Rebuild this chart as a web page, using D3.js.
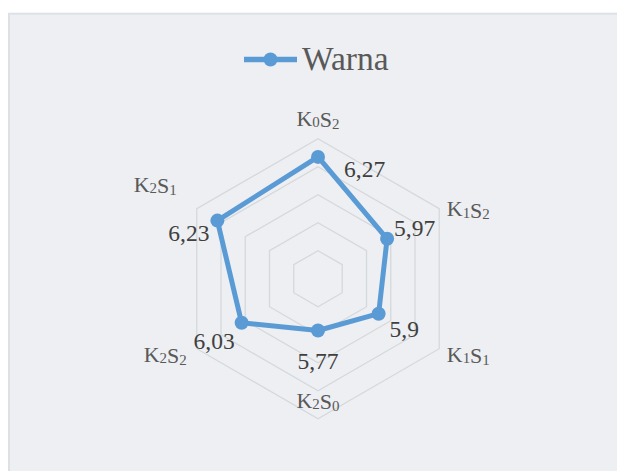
<!DOCTYPE html>
<html>
<head>
<meta charset="utf-8">
<script src="https://cdn.jsdelivr.net/npm/d3@7"></script>
<style>
  html, body { margin: 0; padding: 0; background: #fff; }
  svg { display: block; }
</style>
</head>
<body>
<div id="chart"></div>
<script>
// data
const seriesName = 'Warna';
const categories = ['K0S2', 'K1S2', 'K1S1', 'K2S0', 'K2S2', 'K2S1'];
const warna = [6.27, 5.97, 5.9, 5.77, 6.03, 6.23];
const axisMin = 5.4;
const axisMax = 6.4;
const ringTicks = [5.6, 5.8, 6.0, 6.2, 6.4];

const width = 617, height = 471;
const cx = 318, cy = 278.7, radius = 140;
const blue = '#5b9bd5';

// excel puts labels a bit oddly, nudges relative to computed points
const catNudge = [[0, -13, 'middle'], [7.5, 7.5, 'start'], [7.5, 13, 'start'],
                  [0, -11, 'middle'], [-10, 13, 'end'], [-20, -17, 'end']];
const valNudge = [[26, 20.5, 'start'], [7, -3, 'start'], [11, 23, 'start'],
                  [0, 39, 'middle'], [-7, 26, 'end'], [-8, 20, 'end']];

const comma = d3.formatLocale({ decimal: ',', thousands: '.', grouping: [3], currency: ['', ''] });
const fmt = comma.format('.3~g');

const svg = d3.select('#chart')
              .append('svg')
              .attr('width', width)
              .attr('height', height);

svg.append('rect')
   .attr('x', 9).attr('y', 13.7)
   .attr('width', width).attr('height', height)
   .attr('fill', '#edeff2')
   .attr('stroke', '#dde1e6')
   .attr('stroke-width', 2);

const rScale = d3.scaleLinear().domain([axisMin, axisMax]).range([0, radius]);
const angle = d3.scaleLinear().domain([0, categories.length]).range([0, 2 * Math.PI]);

const g = svg.append('g').attr('transform', `translate(${cx}, ${cy})`);

const ringLine = d3.lineRadial()
                   .angle((d, i) => angle(i))
                   .radius(d => rScale(d))
                   .curve(d3.curveLinearClosed);

g.selectAll('.ring')
 .data(ringTicks)
 .enter()
 .append('path')
 .attr('class', 'ring')
 .attr('d', t => ringLine(categories.map(() => t)))
 .attr('fill', 'none')
 .attr('stroke', '#d5d9db')
 .attr('stroke-width', 1.3);

const pt = (v, i) => {
  const a = angle(i);
  return [rScale(v) * Math.sin(a), -rScale(v) * Math.cos(a)];
};

// category labels with subscripts
const subText = (sel, label) => {
  label.match(/[A-Z]\d/g).forEach(part => {
    sel.append('tspan').text(part[0]);
    sel.append('tspan').attr('font-size', '0.68em').attr('dy', 1.5).text(part[1]);
    sel.append('tspan').attr('dy', -1.5).text('');
  });
};

g.selectAll('.cat')
 .data(categories)
 .enter()
 .append('text')
 .attr('class', 'cat')
 .attr('x', (d, i) => pt(axisMax, i)[0] + catNudge[i][0])
 .attr('y', (d, i) => pt(axisMax, i)[1] + catNudge[i][1])
 .attr('text-anchor', (d, i) => catNudge[i][2])
 .attr('font-family', '"Liberation Serif", serif')
 .attr('font-size', 22)
 .attr('fill', '#595959')
 .each(function (d) { subText(d3.select(this), d); });

const dataLine = d3.lineRadial()
                   .angle((d, i) => angle(i))
                   .radius(d => rScale(d))
                   .curve(d3.curveLinearClosed);

g.append('path')
 .attr('d', dataLine(warna))
 .attr('fill', 'none')
 .attr('stroke', blue)
 .attr('stroke-width', 5)
 .attr('stroke-linejoin', 'round');

g.selectAll('.dot')
 .data(warna)
 .enter()
 .append('circle')
 .attr('class', 'dot')
 .attr('cx', (d, i) => pt(d, i)[0])
 .attr('cy', (d, i) => pt(d, i)[1])
 .attr('r', 7)
 .attr('fill', blue);

g.selectAll('.val')
 .data(warna)
 .enter()
 .append('text')
 .attr('class', 'val')
 .attr('x', (d, i) => pt(d, i)[0] + valNudge[i][0])
 .attr('y', (d, i) => pt(d, i)[1] + valNudge[i][1])
 .attr('text-anchor', (d, i) => valNudge[i][2])
 .attr('font-family', '"Liberation Serif", serif')
 .attr('font-size', 23.5)
 .attr('fill', '#404040')
 .text(d => fmt(d));

// legend
const legend = svg.append('g').attr('transform', 'translate(244, 59.5)');
legend.append('line')
      .attr('x1', 0).attr('x2', 53)
      .attr('stroke', blue)
      .attr('stroke-width', 5.5);
legend.append('circle')
      .attr('cx', 26.5).attr('r', 7)
      .attr('fill', blue);
legend.append('text')
      .attr('x', 58).attr('y', 10.5)
      .attr('font-family', '"Liberation Serif", serif')
      .attr('font-size', 33.5)
      .attr('fill', '#595959')
      .text(seriesName);
</script>
</body>
</html>
